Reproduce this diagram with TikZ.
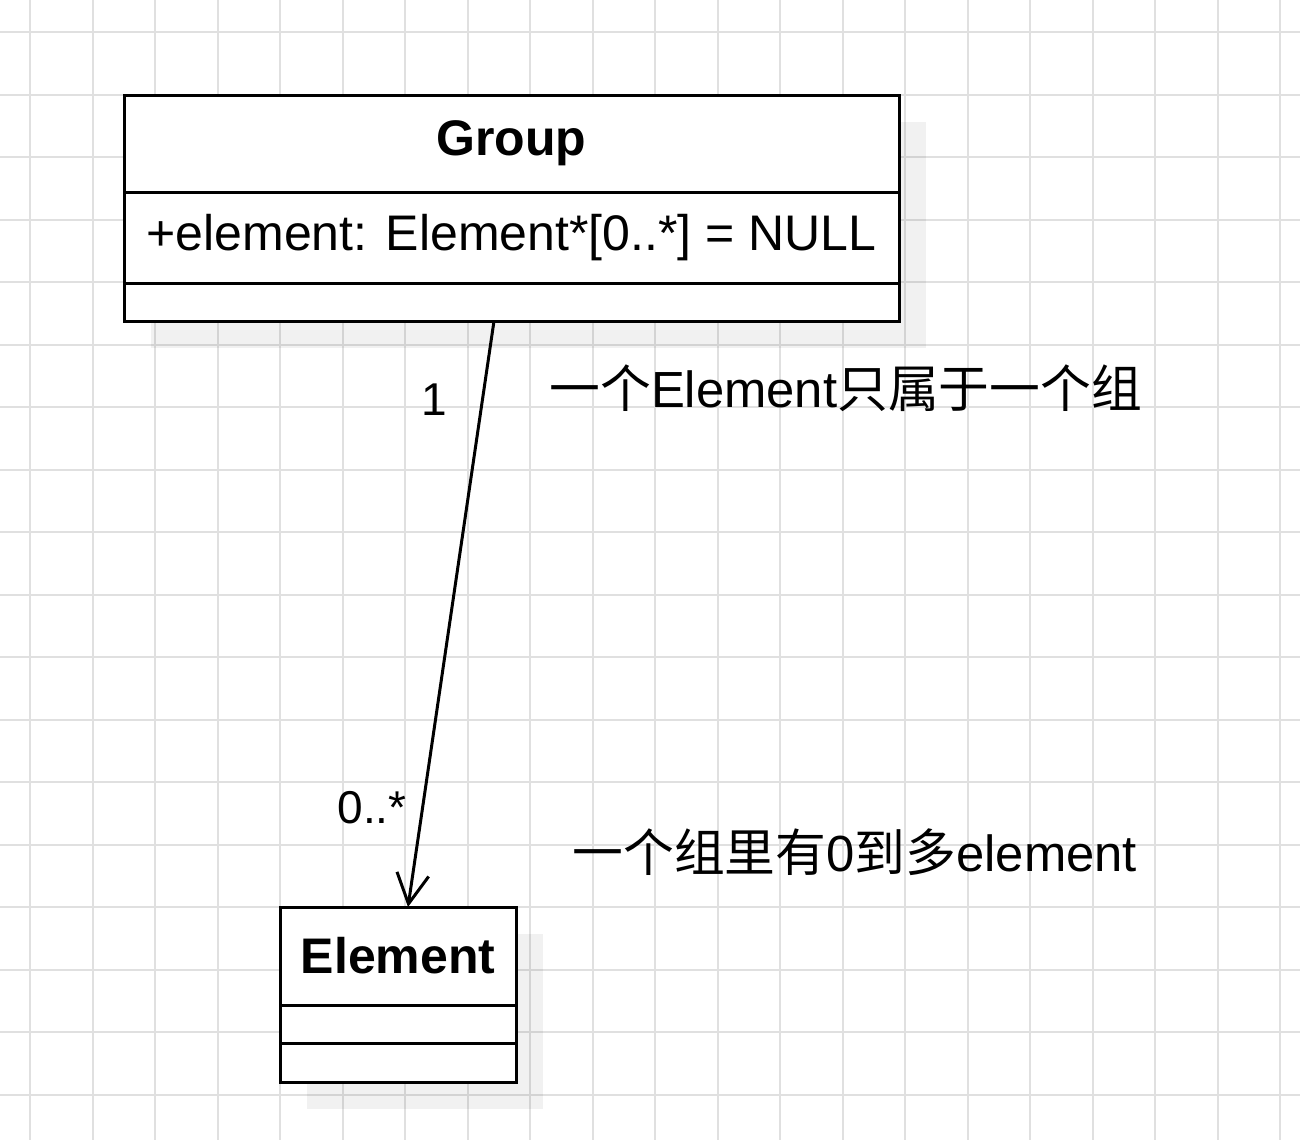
\documentclass[tikz,border=0pt]{standalone}
\usepackage{fontspec}
\setmainfont{Liberation Sans}
\newfontfamily\cjk{Noto Sans CJK SC}
\usetikzlibrary{positioning,calc,arrows.meta}

\tikzset{
  classpart/.style={draw=black, line width=1.5pt, fill=white, inner sep=0pt,
    outer sep=0pt, anchor=north, font=\fontsize{25}{30}\selectfont},
  classhead/.style={classpart, font=\fontsize{25}{30}\selectfont\bfseries},
  multlabel/.style={inner sep=0pt, font=\fontsize{23}{27}\selectfont},
  notelabel/.style={inner sep=0pt, anchor=west, font=\fontsize{25.4}{30}\selectfont},
  boxshadow/.style={fill=black, fill opacity=0.055, draw=none},
  gridline/.style={draw=black!12, line width=1pt},
}

\begin{document}
\begin{tikzpicture}[x=0.5pt,y=-0.5pt]
\useasboundingbox (0,0) rectangle (1300,1140);
\fill [white] (0,0) rectangle (1300,1140);
% grid
\foreach \gx in {0,...,20}
  \draw [gridline] ({30+62.5*\gx},0) -- ({30+62.5*\gx},1140);
\foreach \gy in {0,...,17}
  \draw [gridline] (0,{32+62.5*\gy}) -- (1300,{32+62.5*\gy});
% shadows
\fill [boxshadow] (151,122) rectangle (926,348);
\fill [boxshadow] (307,934) rectangle (543,1109);
% class Group
\node [classhead, minimum width=387.5pt, minimum height=48.5pt] (grouphead) at (511.5,95) {Group};
\node [classpart, minimum width=387.5pt, minimum height=45.5pt]
  (groupattr) at (grouphead.south) {+element: Element*[0..*] = NULL};
\node [classpart, minimum width=387.5pt, minimum height=19pt] (groupops) at (groupattr.south) {};
% class Element
\node [classhead, minimum width=118pt, minimum height=49pt] (elemhead) at (398,907) {Element};
\node [classpart, minimum width=118pt, minimum height=19pt] (elemattr) at (elemhead.south) {};
\node [classpart, minimum width=118pt, minimum height=19.5pt] (elemops) at (elemattr.south) {};
% association
\coordinate (assocsrc) at ($(groupops.south)+(-17.5,0)$);
\coordinate (assoctgt) at ($(elemhead.north)+(10,0)$);
\draw [line width=1.5pt, -{Straight Barb[length=15pt,width=16pt,line width=1.5pt]}]
  (assocsrc) -- (assoctgt);
\node [multlabel] (srcmult) at (434,400) {1};
\node [multlabel] (tgtmult) at (372,808) {0..*};
% notes
\node [notelabel] (noteone) at (549,388) {{\cjk 一个}Element{\cjk 只属于一个组}};
\node [notelabel] (notetwo) at (572,852) {{\cjk 一个组里有}0{\cjk 到多}element};
\end{tikzpicture}
\end{document}
